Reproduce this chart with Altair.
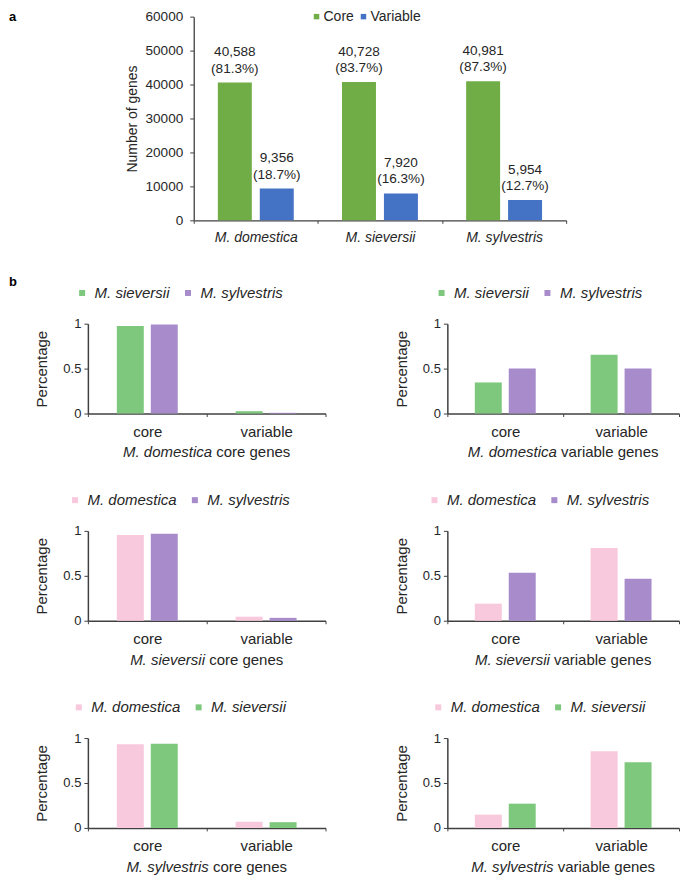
import altair as alt
import pandas as pd

FONT = "Liberation Sans"
AX = "#404040"
TXT = "#262626"

# ---------------- panel a data ----------------
species = ["M. domestica", "M. sieversii", "M. sylvestris"]
gene_types = ["Core", "Variable"]
core_counts = [40588, 40728, 40981]
variable_counts = [9356, 7920, 5954]
core_pct = [81.3, 83.7, 87.3]
variable_pct = [18.7, 16.3, 12.7]
y_ticks_a = [0, 10000, 20000, 30000, 40000, 50000, 60000]

# ---------------- panel b data ----------------
gene_cats = ["core", "variable"]
panel_subject = ["M. domestica", "M. domestica", "M. sieversii", "M. sieversii", "M. sylvestris", "M. sylvestris"]
panel_subset = ["core genes", "variable genes", "core genes", "variable genes", "core genes", "variable genes"]
panel_series = [
    ("M. sieversii", "M. sylvestris"),
    ("M. sieversii", "M. sylvestris"),
    ("M. domestica", "M. sylvestris"),
    ("M. domestica", "M. sylvestris"),
    ("M. domestica", "M. sieversii"),
    ("M. domestica", "M. sieversii"),
]
# values per panel: first series [core, variable], second series [core, variable]
p1_first = [0.974, 0.026]
p1_second = [0.992, 0.008]
p2_first = [0.346, 0.654]
p2_second = [0.500, 0.500]
p3_first = [0.955, 0.045]
p3_second = [0.968, 0.032]
p4_first = [0.190, 0.810]
p4_second = [0.533, 0.467]
p5_first = [0.931, 0.069]
p5_second = [0.936, 0.064]
p6_first = [0.148, 0.852]
p6_second = [0.270, 0.730]
panel_values = [
    (p1_first, p1_second), (p2_first, p2_second), (p3_first, p3_second),
    (p4_first, p4_second), (p5_first, p5_second), (p6_first, p6_second),
]
species_colors = {"M. domestica": "#F8C8DC", "M. sieversii": "#7DC87D", "M. sylvestris": "#A78BCB"}

# Arial / Liberation Sans advance widths (per 1000 em), used to centre mixed-style titles
W = {'M': 833, '.': 278, ' ': 278, 'd': 556, 'o': 556, 'm': 833, 'e': 556, 's': 500, 't': 278,
     'i': 222, 'c': 500, 'a': 556, 'r': 333, 'g': 556, 'n': 556, 'v': 500, 'l': 222, 'b': 556, 'y': 500}


def tw(s, size):
    return sum(W.get(ch, 556) for ch in s) * size / 1000.0


def anchor(x, y):
    """Invisible layout anchor (white 1px dot) that fixes a view's bounding box."""
    return alt.Chart(pd.DataFrame({"z": [0]})).mark_point(
        filled=True, size=1, color="white", opacity=1, strokeWidth=0).encode(
        x=alt.value(x), y=alt.value(y))


def label(txt, x, y, **kw):
    return alt.Chart(pd.DataFrame({"t": [txt]})).mark_text(**kw).encode(
        text="t:N", x=alt.value(x), y=alt.value(y))


# ---------------- panel a chart ----------------
top_df = pd.DataFrame({
    "sp": species * 2,
    "type": [gene_types[0]] * 3 + [gene_types[1]] * 3,
    "count": core_counts + variable_counts,
    "pct": core_pct + variable_pct,
})
top_df["l1"] = [f"{c:,}" for c in top_df["count"]]
top_df["l2"] = [f"({p:.1f}%)" for p in top_df["pct"]]

TOP_W, TOP_H = 373, 204

xa = alt.X("sp:N", sort=species,
           scale=alt.Scale(domain=species, paddingInner=0, paddingOuter=0),
           axis=alt.Axis(title=None, labelAngle=0, labelFontStyle="italic", labelFontSize=14,
                         labelPadding=7, tickSize=3, tickBand="extent", tickColor=AX,
                         domainColor=AX, domainWidth=1.3, labelColor=TXT))
xoa = alt.XOffset("type:N", scale=alt.Scale(domain=gene_types, paddingInner=0.19, paddingOuter=0.575))
ya = alt.Y("count:Q", scale=alt.Scale(domain=[0, 60000], nice=False),
           axis=alt.Axis(values=y_ticks_a, format="d", title="Number of genes", titleFontSize=14,
                         titleFontWeight="normal", titleColor=TXT, titlePadding=6, labelFontSize=13.6,
                         labelPadding=7, tickSize=4, tickColor=AX, domainColor=AX, domainWidth=1.3,
                         labelColor=TXT))

top_bars = alt.Chart(top_df).mark_bar().encode(
    x=xa, xOffset=xoa, y=ya,
    color=alt.Color("type:N", scale=alt.Scale(domain=gene_types, range=["#70AD47", "#4472C4"]),
                    legend=alt.Legend(title=None, orient="none", legendX=116, legendY=-7,
                                      direction="horizontal", symbolType="square", symbolSize=30,
                                      symbolStrokeWidth=0, symbolOpacity=1, labelFontSize=14,
                                      labelOffset=0, columnPadding=2, padding=0, labelColor=TXT)),
)
top_text1 = alt.Chart(top_df).mark_text(baseline="alphabetic", dy=-26.5, fontSize=13.6, color=TXT).encode(
    x=xa, xOffset=xoa, y=ya, text="l1:N")
top_text2 = alt.Chart(top_df).mark_text(baseline="alphabetic", dy=-10, fontSize=13.6, color=TXT).encode(
    x=xa, xOffset=xoa, y=ya, text="l2:N")

top = alt.layer(top_bars, top_text1, top_text2, anchor(-75, -7), anchor(TOP_W, TOP_H + 32)).properties(
    width=TOP_W, height=TOP_H)

spacer = alt.layer(
    label("a", -79, 0, align="left", baseline="middle", fontWeight="bold", fontSize=13, color="#000"),
    anchor(-79, -7), anchor(29.5, 0),
).properties(width=30, height=TOP_H)

top_row = alt.hconcat(spacer, top, spacing=0).resolve_scale(color="independent", xOffset="independent")


# ---------------- panel b charts ----------------
def panel(i, width, right_anchor, show_b=False):
    s1, s2 = panel_series[i]
    v1, v2 = panel_values[i]
    df = pd.DataFrame({"cat": gene_cats * 2, "sp": [s1] * 2 + [s2] * 2, "val": list(v1) + list(v2)})
    lab_w = tw(s1, 15) + tw(s2, 15) + 40
    lx = 85.5 - lab_w / 2
    band = width / 2.0
    p_out = (band / 34.0 - 2 + 0.206) / 2
    bars = alt.Chart(df).mark_bar().encode(
        x=alt.X("cat:N", sort=gene_cats, scale=alt.Scale(domain=gene_cats, paddingInner=0, paddingOuter=0),
                axis=alt.Axis(title=None, labelAngle=0, labelFontSize=15, labelPadding=8, tickSize=3,
                              tickBand="extent", tickColor=AX, domainColor=AX, domainWidth=1.5,
                              labelColor=TXT)),
        xOffset=alt.XOffset("sp:N", scale=alt.Scale(domain=[s1, s2], paddingInner=0.206, paddingOuter=p_out)),
        y=alt.Y("val:Q", scale=alt.Scale(domain=[0, 1], nice=False),
                axis=alt.Axis(values=[0, 0.5, 1], format="~g", title="Percentage", titleFontSize=15,
                              titleFontWeight="normal", titleColor=TXT, titlePadding=13, labelFontSize=13,
                              labelPadding=3, tickSize=4, tickColor=AX, domainColor=AX, domainWidth=1.5,
                              labelColor=TXT)),
        color=alt.Color("sp:N", scale=alt.Scale(domain=[s1, s2], range=[species_colors[s1], species_colors[s2]]),
                        legend=alt.Legend(title=None, orient="none", legendX=lx, legendY=-38.5,
                                          direction="horizontal", symbolType="square", symbolSize=36,
                                          symbolStrokeWidth=0, symbolOpacity=1, labelFontSize=15,
                                          labelFontStyle="italic", labelOffset=5, columnPadding=10,
                                          padding=0, labelColor=TXT)),
    )
    it, reg = panel_subject[i], panel_subset[i]
    total = tw(it, 15) + tw(" ", 15) + tw(reg, 15)
    left = width / 2 - total / 2
    t_it = label(it, left, 129, align="left", baseline="middle", fontSize=15, fontStyle="italic", color=TXT)
    t_reg = label(reg, left + tw(it, 15) + tw(" ", 15), 129, align="left", baseline="middle",
                  fontSize=15, color=TXT)
    layers = [bars, t_it, t_reg, anchor(-79, -55), anchor(right_anchor, 137)]
    if show_b:
        layers.append(label("b", -79, -42, align="left", baseline="middle", fontWeight="bold",
                            fontSize=13, color="#000"))
    return alt.layer(*layers).properties(width=width, height=90)


rows = []
for r in range(3):
    left_p = panel(2 * r, 238, 240, show_b=(r == 0))
    right_p = panel(2 * r + 1, 232, 232)
    rows.append(alt.hconcat(left_p, right_p, spacing=39).resolve_scale(
        color="independent", xOffset="independent"))

rows_chart = alt.vconcat(*rows, spacing=13.5).resolve_scale(color="independent", xOffset="independent")

chart = alt.vconcat(top_row, rows_chart, spacing=14.5).resolve_scale(
    color="independent", xOffset="independent"
).properties(padding=0).configure(font=FONT).configure_view(stroke=None).configure_axis(
    grid=False, labelFont=FONT, titleFont=FONT
).configure_legend(labelFont=FONT)

chart.save("out.html", embed_options={"renderer": "svg", "actions": False})
